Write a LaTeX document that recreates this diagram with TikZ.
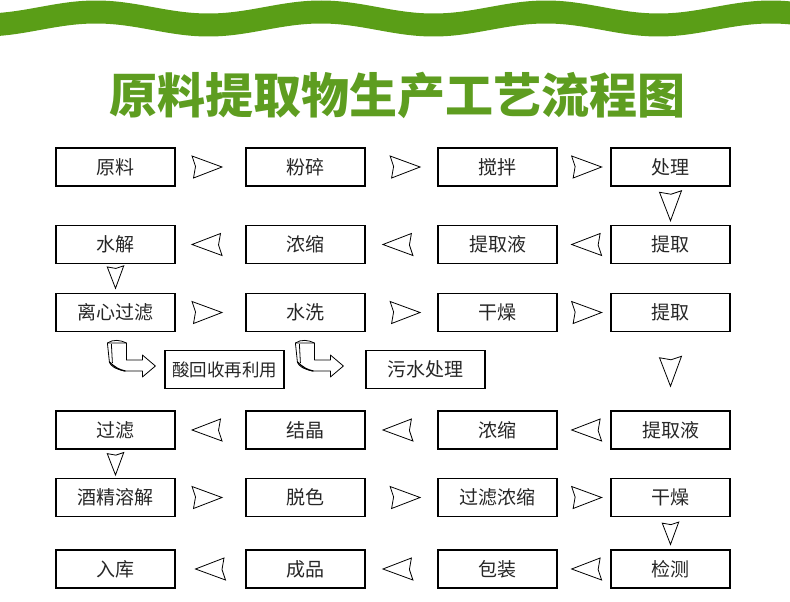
\documentclass[tikz,border=0pt]{standalone}
\usepackage{fontspec}
\newfontfamily\cjk{Noto Sans CJK SC}
\usetikzlibrary{positioning, calc}

\definecolor{leaf}{HTML}{5A9E17}
\definecolor{leaftext}{HTML}{5E9D20}

\begin{document}
\begin{tikzpicture}[
        x=1pt, y=-1pt,
        font=\cjk\fontsize{19}{19}\selectfont,
        stepbox/.style={rectangle, draw, line width=1.2pt, minimum
          width=119pt, minimum height=38pt, inner sep=0pt,
          text=black!85},
        dart/.pic={\draw[line width=0.8pt, fill=white]
          (-15,-11) -- (15,0) -- (-13.5,11) -- (-11.5,-0.5) -- cycle;},
        bend/.pic={
          \draw[line width=0.8pt, fill=white, line join=round]
          (-48,-23) -- (-29,-23) -- (-29,-6) -- (-13,-6) -- (-13,-11)
          -- (0,0) -- (-13,11) -- (-13,5) -- (-31,5)
          .. controls (-40,3) and (-45,0) .. (-46,-4) -- cycle;
          \draw[line width=0.8pt] (-48,-23) .. controls (-42,-27) and
          (-35,-26) .. (-29,-23);
          \draw[line width=0.8pt] (-44,-22) -- (-43,-3);
          \draw[line width=1.2pt] (-46,-4) .. controls (-41,1) and
          (-36,4) .. (-30,5);}
      ]
      \useasboundingbox (0,0) rectangle (790,602);

      % wavy band and title
      \fill[leaf] plot[domain=0:790, samples=200]
      (\x, {7-6.5*cos(1.6*(\x-96))})
      -- plot[domain=790:0, samples=200]
      (\x, {30-6.5*cos(1.6*(\x-96))}) -- cycle;
      \node[font=\cjk\bfseries\fontsize{48}{48}\selectfont,
      text=leaftext] (title) at (397,95) {原料提取物生产工艺流程图};

      % first row
      \node [stepbox] (r1c1) at (115.5,167) {原料};
      \node [stepbox] (r1c2) at (305.5,167) {粉碎};
      \node [stepbox] (r1c3) at (497.5,167) {搅拌};
      \node [stepbox] (r1c4) at (670.5,167) {处理};

      % second row
      \node [stepbox] (r2c1) at (115.5,244.5) {水解};
      \node [stepbox] (r2c2) at (305.5,244.5) {浓缩};
      \node [stepbox] (r2c3) at (497.5,244.5) {提取液};
      \node [stepbox] (r2c4) at (670.5,244.5) {提取};

      % third row and side products
      \node [stepbox] (r3c1) at (115.5,312.5) {离心过滤};
      \node [stepbox] (r3c2) at (305.5,312.5) {水洗};
      \node [stepbox] (r3c3) at (497.5,312.5) {干燥};
      \node [stepbox] (r3c4) at (670.5,312.5) {提取};
      \node [stepbox, font=\cjk\fontsize{17.5}{17.5}\selectfont]
      (acid) at (224.5,369.5) {酸回收再利用};
      \node [stepbox] (waste) at (425.5,369.5) {污水处理};

      % fourth row
      \node [stepbox] (r4c1) at (115.5,430) {过滤};
      \node [stepbox] (r4c2) at (305.5,430) {结晶};
      \node [stepbox] (r4c3) at (497.5,430) {浓缩};
      \node [stepbox] (r4c4) at (670.5,430) {提取液};

      % fifth row
      \node [stepbox] (r5c1) at (115.5,497.5) {酒精溶解};
      \node [stepbox] (r5c2) at (305.5,497.5) {脱色};
      \node [stepbox] (r5c3) at (497.5,497.5) {过滤浓缩};
      \node [stepbox] (r5c4) at (670.5,497.5) {干燥};

      % last row
      \node [stepbox] (r6c1) at (115.5,569) {入库};
      \node [stepbox] (r6c2) at (305.5,569) {成品};
      \node [stepbox] (r6c3) at (497.5,569) {包装};
      \node [stepbox] (r6c4) at (670.5,569) {检测};

      % arrows to the right
      \pic at ($(r1c1.east)!0.45!(r1c2.west)$) {dart};
      \pic at ($(r1c2.east)!0.55!(r1c3.west)$) {dart};
      \pic at ($(r1c3.east)!0.55!(r1c4.west)$) {dart};
      \pic at ($(r3c1.east)!0.45!(r3c2.west)$) {dart};
      \pic at ($(r3c2.east)!0.55!(r3c3.west)$) {dart};
      \pic at ($(r3c3.east)!0.55!(r3c4.west)$) {dart};
      \pic at ($(r5c1.east)!0.45!(r5c2.west)$) {dart};
      \pic at ($(r5c2.east)!0.55!(r5c3.west)$) {dart};
      \pic at ($(r5c3.east)!0.55!(r5c4.west)$) {dart};

      % arrows to the left
      \pic[rotate=180] at ($(r2c1.east)!0.45!(r2c2.west)$) {dart};
      \pic[rotate=180] at ($(r2c2.east)!0.45!(r2c3.west)$) {dart};
      \pic[rotate=180] at ($(r2c3.east)!0.55!(r2c4.west)$) {dart};
      \pic[rotate=180] at ($(r4c1.east)!0.45!(r4c2.west)$) {dart};
      \pic[rotate=180] at ($(r4c2.east)!0.45!(r4c3.west)$) {dart};
      \pic[rotate=180] at ($(r4c3.east)!0.55!(r4c4.west)$) {dart};
      \pic[rotate=180] at ($(r6c1.east)!0.5!(r6c2.west)$) {dart};
      \pic[rotate=180] at ($(r6c2.east)!0.45!(r6c3.west)$) {dart};
      \pic[rotate=180] at ($(r6c3.east)!0.55!(r6c4.west)$) {dart};

      % arrows down
      \pic[rotate=-90] at ($(r1c4.south)!0.5!(r2c4.north)$) {dart};
      \pic[rotate=-90] at ($(r3c4.south)!0.5!(r4c4.north)$) {dart};
      \pic[rotate=-90, scale=0.75] at ($(r2c1.south)!0.45!(r3c1.north)$) {dart};
      \pic[rotate=-90, scale=0.75] at ($(r4c1.south)!0.5!(r5c1.north)$) {dart};
      \pic[rotate=-90, scale=0.75] at ($(r5c4.south)!0.5!(r6c4.north)$) {dart};

      % side branches
      \pic at ($(acid.west)+(-9,-3.5)$) {bend};
      \pic at ($(waste.west)+(-22,-3.5)$) {bend};

    \end{tikzpicture}
\end{document}
